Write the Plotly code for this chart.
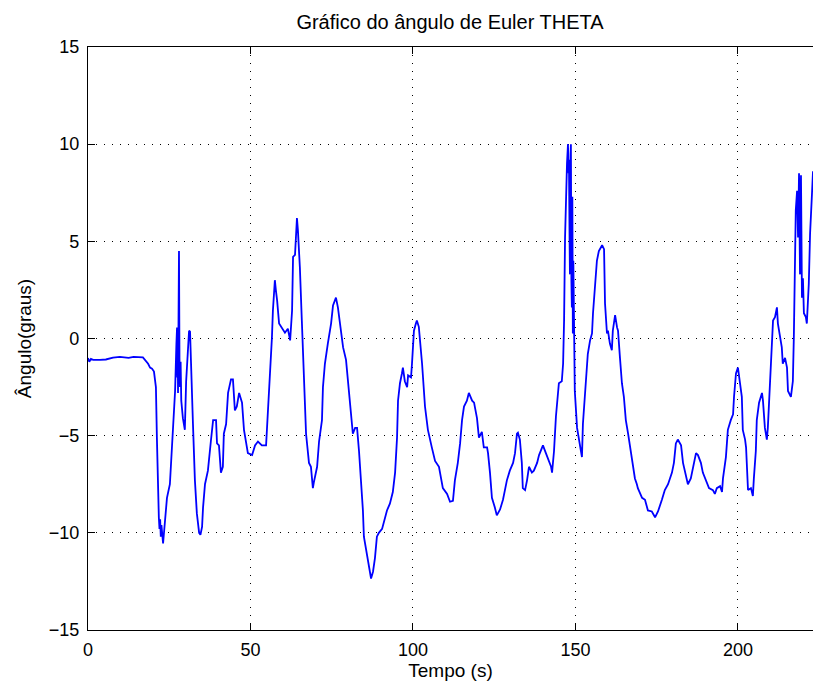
import plotly.graph_objects as go

# Time samples (s) and Euler angle theta (degrees)
tempo_s = [
    0.0, 0.4, 0.9, 1.6, 3.7, 5.5, 7.7, 9.8, 12.5, 14.0, 16.9, 17.8, 18.5, 19.1, 19.7,
    20.3, 20.6, 20.9, 21.2, 21.5, 21.8, 22.0, 22.2, 22.4, 22.6, 23.1, 23.4, 23.6, 24.3,
    25.2, 26.2, 26.8, 27.2, 27.4, 27.5, 27.6, 27.7, 27.8, 27.9, 28.0, 28.15, 28.3, 28.5,
    28.7, 29.2, 29.8, 30.2, 30.8, 31.1, 31.4, 31.7, 32.3, 32.9, 33.5, 34.2, 34.6, 35.1,
    35.4, 36.0, 36.9, 37.8, 38.5, 39.4, 39.7, 40.3, 40.9, 41.5, 41.8, 42.5, 43.1, 44.0,
    44.6, 45.2, 45.8, 46.5, 47.4, 48.0, 48.6, 49.2, 50.5, 51.4, 52.3, 53.5, 54.8, 55.4,
    56.0, 56.6, 56.9, 57.5, 57.8, 58.2, 58.8, 59.7, 60.6, 61.5, 62.2, 62.8, 63.1, 63.7,
    64.3, 64.6, 65.2, 65.8, 66.2, 66.8, 67.1, 67.7, 68.0, 68.6, 69.2, 69.5, 70.5, 71.1,
    72.0, 72.3, 72.9, 73.8, 74.8, 75.4, 76.3, 76.9, 77.8, 78.5, 79.4, 80.0, 80.9, 81.5,
    82.2, 82.8, 83.4, 84.0, 84.6, 84.9, 85.8, 86.5, 87.1, 87.7, 88.3, 88.9, 89.5, 90.5,
    91.1, 92.0, 92.9, 93.8, 94.5, 95.1, 95.4, 96.0, 96.6, 96.9, 97.5, 98.2, 98.5, 99.4,
    99.7, 100.3, 100.9, 101.2, 101.8, 102.8, 103.7, 104.6, 105.8, 106.8, 108.0, 109.2,
    110.5, 111.4, 112.3, 112.9, 113.8, 114.5, 115.1, 115.7, 116.6, 117.2, 118.2, 118.8,
    119.7, 120.3, 121.2, 121.8, 122.8, 123.1, 123.7, 124.3, 125.2, 125.8, 126.8, 127.7,
    128.3, 128.9, 129.8, 130.8, 131.4, 132.0, 132.3, 132.9, 133.5, 133.8, 134.5, 135.1,
    135.7, 136.6, 137.2, 138.2, 138.8, 139.7, 140.0, 140.9, 141.5, 142.5, 142.8, 143.4,
    144.0, 144.6, 144.9, 145.8, 146.2, 146.5, 146.8, 147.4, 147.7, 147.9, 148.0, 148.2,
    148.3, 148.5, 148.6, 148.75, 148.9, 149.05, 149.2, 149.35, 149.5, 149.8, 150.5,
    151.4, 152.0, 152.3, 152.9, 153.5, 153.8, 154.5, 155.1, 155.4, 156.0, 156.6, 157.2,
    158.2, 158.8, 159.1, 159.7, 160.0, 160.6, 161.2, 161.5, 162.2, 162.8, 163.1, 163.7,
    164.3, 164.9, 165.5, 166.2, 166.8, 167.4, 168.0, 168.3, 168.9, 169.2, 170.5, 171.4,
    172.3, 173.5, 174.5, 175.4, 176.6, 177.5, 178.5, 179.7, 180.3, 180.9, 181.5, 182.5,
    183.1, 183.7, 184.6, 185.5, 186.2, 187.1, 187.7, 188.6, 189.2, 190.2, 191.1, 192.3,
    192.9, 193.5, 194.5, 195.1, 195.4, 196.3, 196.9, 197.8, 198.5, 198.8, 199.4, 200.0,
    200.6, 201.2, 201.5, 202.2, 202.5, 202.8, 203.1, 204.0, 204.6, 204.9, 205.5, 205.8,
    206.5, 207.4, 207.7, 208.3, 208.9, 209.2, 209.8, 210.5, 210.8, 211.4, 212.0, 212.3,
    212.9, 213.5, 213.8, 214.5, 215.1, 215.4, 216.3, 216.9, 217.2, 217.5, 217.8, 218.2,
    218.5, 218.8, 219.1, 219.4, 219.7, 220.0, 220.3, 220.9, 221.2, 221.8, 222.2, 222.8,
    223.1,
]

theta_graus = [
    -1.0, -1.2, -1.05, -1.1, -1.1, -1.08, -0.98, -0.95, -1.0, -0.95, -0.97, -1.15, -1.3,
    -1.5, -1.55, -1.7, -2.3, -2.5, -5.1, -7.8, -9.2, -9.8, -9.3, -10.2, -9.6, -10.55,
    -10.0, -9.5, -8.2, -7.5, -4.7, -2.7, -0.3, 0.57, -2.0, 0.4, -2.8, 0.2, -1.5, 4.5,
    -1.0, -2.5, -1.2, -3.2, -4.1, -4.7, -2.2, -0.26, 0.4, 0.35, -1.5, -4.4, -7.3, -9.0,
    -10.0, -10.1, -9.7, -8.7, -7.5, -6.8, -5.3, -4.2, -4.2, -5.4, -5.5, -6.9, -6.6, -4.9,
    -4.4, -2.8, -2.1, -2.1, -3.7, -3.5, -2.8, -3.3, -4.7, -5.4, -5.9, -6.0, -5.5, -5.3,
    -5.5, -5.5, -3.7, -2.3, 0.05, 1.44, 3.0, 2.5, 1.95, 0.77, 0.5, 0.3, 0.5, -0.1, 1.44,
    4.2, 4.3, 6.2, 5.55, 3.65, 0.93, -0.98, -2.8, -4.9, -5.9, -6.4, -6.6, -7.7, -7.4,
    -6.6, -5.3, -4.2, -2.5, -1.3, -0.26, 0.77, 1.7, 2.1, 1.6, 0.57, -0.46, -1.1, -2.3,
    -3.7, -4.9, -4.6, -4.6, -5.8, -7.3, -8.85, -10.2, -11.1, -11.8, -12.35, -12.0, -11.3,
    -10.2, -10.0, -9.8, -9.4, -8.85, -8.5, -7.9, -6.9, -5.1, -3.2, -2.3, -1.8, -1.5,
    -2.2, -2.5, -1.9, -2.0, -1.3, 0.4, 0.77, 0.93, 0.6, -1.3, -3.5, -4.7, -5.6, -6.3,
    -6.6, -7.7, -8.0, -8.4, -8.35, -7.3, -6.4, -5.4, -4.2, -3.5, -3.2, -2.8, -3.2, -3.3,
    -4.1, -5.1, -4.8, -5.6, -5.6, -5.9, -6.9, -8.2, -8.7, -9.1, -8.8, -8.3, -7.8, -7.3,
    -6.8, -6.4, -5.9, -4.9, -4.85, -5.2, -6.4, -7.7, -7.8, -7.3, -6.6, -6.9, -6.8, -6.4,
    -6.0, -5.6, -5.5, -5.9, -6.2, -6.6, -6.9, -5.8, -4.0, -3.0, -2.3, -2.2, -1.3, 0.93,
    5.2, 9.0, 10.0, 8.5, 9.2, 5.0, 3.3, 9.5, 10.0, 3.0, 1.6, 7.3, 0.26, 4.0, -0.5, -2.7,
    -4.6, -5.4, -6.1, -4.4, -2.8, -1.5, -0.8, -0.1, 0.26, 1.3, 2.6, 4.0, 4.5, 4.8, 4.6,
    1.8, 0.26, 0.4, -0.26, -0.6, 0.4, 1.2, 0.57, 0.4, -1.0, -2.3, -3.0, -4.2, -4.9, -5.6,
    -6.3, -6.9, -7.2, -7.5, -7.7, -8.2, -8.3, -8.85, -8.9, -9.2, -8.9, -8.3, -7.8, -7.5,
    -6.9, -6.4, -5.4, -5.2, -5.5, -6.4, -6.9, -7.5, -7.2, -6.6, -5.9, -6.0, -6.4, -6.9,
    -7.3, -7.7, -7.8, -8.0, -7.7, -7.6, -7.9, -7.2, -6.1, -4.7, -4.2, -3.9, -3.0, -1.8,
    -1.5, -2.2, -3.0, -4.7, -5.2, -5.6, -7.2, -7.8, -7.7, -8.1, -7.2, -5.8, -4.2, -3.3,
    -2.8, -3.2, -4.6, -5.2, -4.6, -2.7, -0.26, 0.93, 1.1, 1.6, 0.77, 0.05, -0.46, -1.3,
    -1.0, -1.5, -2.7, -3.0, -2.2, 0.05, 2.8, 6.6, 7.6, 5.2, 8.5, 3.3, 8.4, 2.1, 3.1, 1.3,
    1.1, 0.77, 2.8, 5.4, 7.5, 8.6,
]

x_ticks = [0, 50, 100, 150, 200]
y_ticks = [-15, -10, -5, 0, 5, 10, 15]

FONT = "Liberation Sans"

fig = go.Figure()
fig.add_trace(go.Scatter(
    x=tempo_s, y=theta_graus, mode="lines",
    line=dict(color="#0000FF", width=1.8),
    hoverinfo="skip", showlegend=False,
))

axis_common = dict(
    showline=True, linecolor="black", linewidth=1.2,
    ticks="inside", ticklen=7, tickcolor="black", tickwidth=1,
    showgrid=True, gridcolor="black", gridwidth=1, griddash="1px,7px",
    zeroline=False,
    tickfont=dict(family=FONT, size=18, color="black"),
)

fig.update_layout(
    width=813, height=689,
    margin=dict(l=88, r=0, t=47, b=59),
    paper_bgcolor="white", plot_bgcolor="white",
    title=dict(
        text="Gráfico do ângulo de Euler THETA",
        font=dict(family=FONT, size=20, color="black"),
        x=0.5535, xanchor="center", y=1 - 22 / 689, yanchor="middle",
    ),
    xaxis=dict(
        range=[0, 223.1], tickvals=x_ticks, mirror="ticks", ticklabelstandoff=3,
        title=dict(text="Tempo (s)", font=dict(family=FONT, size=19, color="black"),
                   standoff=4),
        **axis_common,
    ),
    yaxis=dict(
        range=[-15, 15], tickvals=y_ticks, ticklabelstandoff=4,
        title=dict(text="Ângulo(graus)", font=dict(family=FONT, size=19, color="black"),
                   standoff=12),
        **axis_common,
    ),
)

fig.write_html("out.html")
